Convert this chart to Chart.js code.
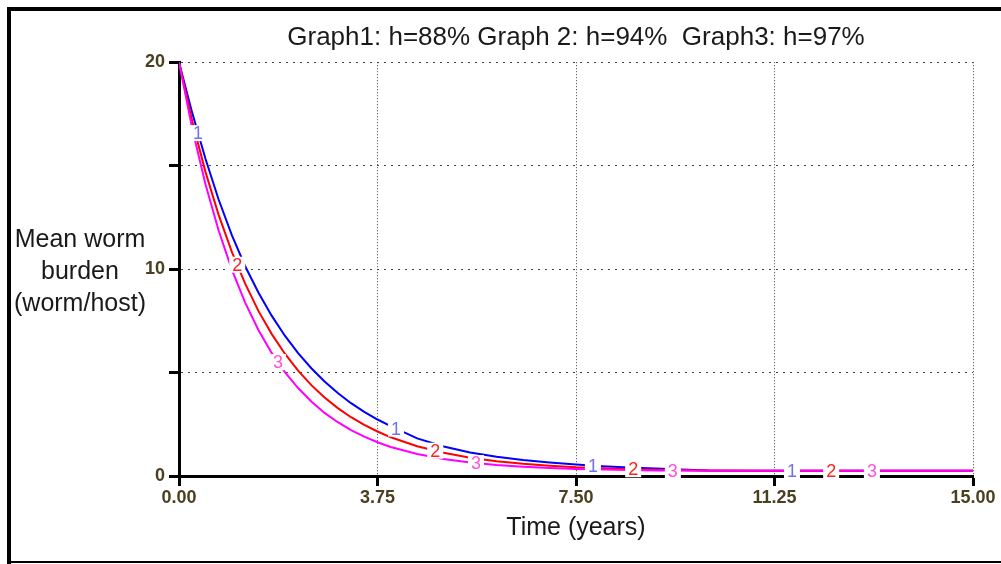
<!DOCTYPE html>
<html>
<head>
<meta charset="utf-8">
<script src="https://cdn.jsdelivr.net/npm/chart.js@4.4.1/dist/chart.umd.min.js"></script>
<style>
  html, body { margin: 0; padding: 0; background: #fff; }
  #wrap { position: relative; width: 1001px; height: 564px; overflow: hidden; background: #fff; }
  #c { position: absolute; left: 0; top: 0; }
  .frame { position: absolute; background: #000; }
  #ytitle { position: absolute; left: 0; top: 222px; width: 160px; text-align: center;
    font-family: "Liberation Sans", Arial, sans-serif; font-size: 25px; line-height: 32px; color: #1a1a1a; }
</style>
</head>
<body>
<div id="wrap">
  <canvas id="c" width="1001" height="564"></canvas>
  <div class="frame" style="left:7px;top:7px;width:994px;height:4px;"></div>
  <div class="frame" style="left:7px;top:7px;width:4px;height:557px;"></div>
  <div class="frame" style="left:7px;top:561px;width:994px;height:2px;"></div>
  <div id="ytitle">Mean worm<br>burden<br>(worm/host)</div>
</div>
<script>
// ---- data ----
const chartTitle = "Graph1: h=88% Graph 2: h=94%  Graph3: h=97%";
const xTitle = "Time (years)";
const times = [0, 0.25, 0.5, 0.75, 1, 1.25, 1.5, 1.75, 2, 2.25, 2.5, 2.75, 3, 3.25, 3.5, 3.75,
               4, 4.5, 5, 5.5, 6, 6.5, 7, 7.5, 8, 8.5, 9, 9.5, 10, 11, 12, 13, 14, 15];
const graph1 = [20, 17.55, 15.33, 13.35, 11.63, 10.14, 8.87, 7.75, 6.78, 5.94, 5.21, 4.57, 4.01, 3.52, 3.10, 2.73,
                2.41, 1.82, 1.43, 1.14, 0.93, 0.77, 0.65, 0.55, 0.47, 0.41, 0.36, 0.31, 0.27, 0.25, 0.25, 0.25, 0.25, 0.25];
const graph2 = [20, 17.15, 14.70, 12.61, 10.82, 9.30, 7.98, 6.87, 5.91, 5.09, 4.39, 3.79, 3.28, 2.84, 2.47, 2.15,
                1.87, 1.44, 1.12, 0.88, 0.71, 0.59, 0.50, 0.42, 0.37, 0.33, 0.30, 0.28, 0.26, 0.25, 0.25, 0.25, 0.25, 0.25];
const graph3 = [20, 16.79, 14.10, 11.85, 9.96, 8.38, 7.06, 5.95, 5.02, 4.25, 3.60, 3.05, 2.60, 2.22, 1.90, 1.63,
                1.40, 1.06, 0.82, 0.65, 0.53, 0.45, 0.39, 0.34, 0.31, 0.29, 0.27, 0.26, 0.25, 0.25, 0.25, 0.25, 0.25, 0.25];
const xTicks = [0, 3.75, 7.5, 11.25, 15];
const yTicks = [0, 5, 10, 15, 20];
const yLabelled = [0, 10, 20];
const seriesNames = ["1", "2", "3"];
const labelTimes1 = [0.36, 4.1, 7.82, 11.58];
const labelTimes2 = [1.1, 4.84, 8.58, 12.32];
const labelTimes3 = [1.87, 5.61, 9.33, 13.09];

// ---- styling ----
const FONT = "'Liberation Sans', Arial, sans-serif";
const lineColors = ["#0000ff", "#ff0000", "#ff00ff"];
const labelColors = ["#7070f0", "#ff2020", "#ff50d8"];
const tickColor = "#4a4020";

function pts(arr) { return times.map((t, i) => ({ x: t, y: arr[i] })); }

function interp(arr, t) {
  for (let i = 0; i < times.length - 1; i++) {
    if (t >= times[i] && t <= times[i + 1]) {
      const f = (t - times[i]) / (times[i + 1] - times[i]);
      return arr[i] + f * (arr[i + 1] - arr[i]);
    }
  }
  return arr[arr.length - 1];
}

const seriesLabelPlugin = {
  id: 'seriesLabels',
  afterDatasetsDraw(chart) {
    const ctx = chart.ctx;
    const xs = chart.scales.x, ys = chart.scales.y;
    const sets = [[graph1, labelTimes1], [graph2, labelTimes2], [graph3, labelTimes3]];
    ctx.save();
    ctx.font = "18px " + FONT;
    ctx.textAlign = "center";
    ctx.textBaseline = "middle";
    sets.forEach(([arr, lt], si) => {
      lt.forEach(t => {
        const px = xs.getPixelForValue(t);
        const py = ys.getPixelForValue(interp(arr, t));
        const w = ctx.measureText(seriesNames[si]).width + 6;
        ctx.fillStyle = "#fff";
        ctx.fillRect(px - w / 2, py - 8, w, 16);
        ctx.fillStyle = labelColors[si];
        ctx.fillText(seriesNames[si], px, py + 1);
      });
    });
    ctx.restore();
  }
};

new Chart(document.getElementById('c'), {
  type: 'line',
  data: {
    datasets: [
      { label: '1', data: pts(graph1), borderColor: lineColors[0], order: 3 },
      { label: '2', data: pts(graph2), borderColor: lineColors[1], order: 2 },
      { label: '3', data: pts(graph3), borderColor: lineColors[2], order: 1 }
    ]
  },
  options: {
    responsive: false,
    animation: false,
    devicePixelRatio: 1,
    layout: { padding: { left: 0, right: 28, top: 0, bottom: 0 } },
    elements: {
      point: { radius: 0 },
      line: { borderWidth: 2, tension: 0, fill: false }
    },
    plugins: {
      legend: { display: false },
      tooltip: { enabled: false },
      title: {
        display: true, text: chartTitle, fullSize: false, color: '#1a1a1a',
        font: { family: FONT, size: 26, weight: 'normal' },
        padding: { top: 22, bottom: 9 }
      }
    },
    scales: {
      x: {
        type: 'linear', min: 0, max: 15,
        afterBuildTicks: s => { s.ticks = xTicks.map(v => ({ value: v })); },
        afterFit: s => { s.height = 88; },
        ticks: {
          autoSkip: false, maxRotation: 0, padding: 1, color: tickColor,
          font: { family: FONT, size: 18, weight: 'bold' },
          callback: v => Number(v).toFixed(2)
        },
        grid: { color: '#444', lineWidth: 1, tickLength: 10, tickWidth: 3, tickColor: '#000', tickBorderDash: [] },
        border: { display: true, color: '#000', width: 3, dash: [1, 2] },
        title: {
          display: true, text: xTitle, color: '#1a1a1a',
          font: { family: FONT, size: 25, weight: 'normal' },
          padding: { top: 4, bottom: 21 }
        }
      },
      y: {
        type: 'linear', min: 0, max: 20,
        afterBuildTicks: s => { s.ticks = yTicks.map(v => ({ value: v })); },
        afterFit: s => { s.width = 179; },
        ticks: {
          autoSkip: false, padding: 4, color: tickColor,
          font: { family: FONT, size: 18, weight: 'bold' },
          callback: v => (yLabelled.includes(v) ? String(v) : '')
        },
        grid: { color: '#444', lineWidth: 1, tickLength: 10, tickWidth: 3, tickColor: '#000', tickBorderDash: [] },
        border: { display: true, color: '#000', width: 3, dash: [2, 5] }
      }
    }
  },
  plugins: [seriesLabelPlugin]
});
</script>
</body>
</html>
